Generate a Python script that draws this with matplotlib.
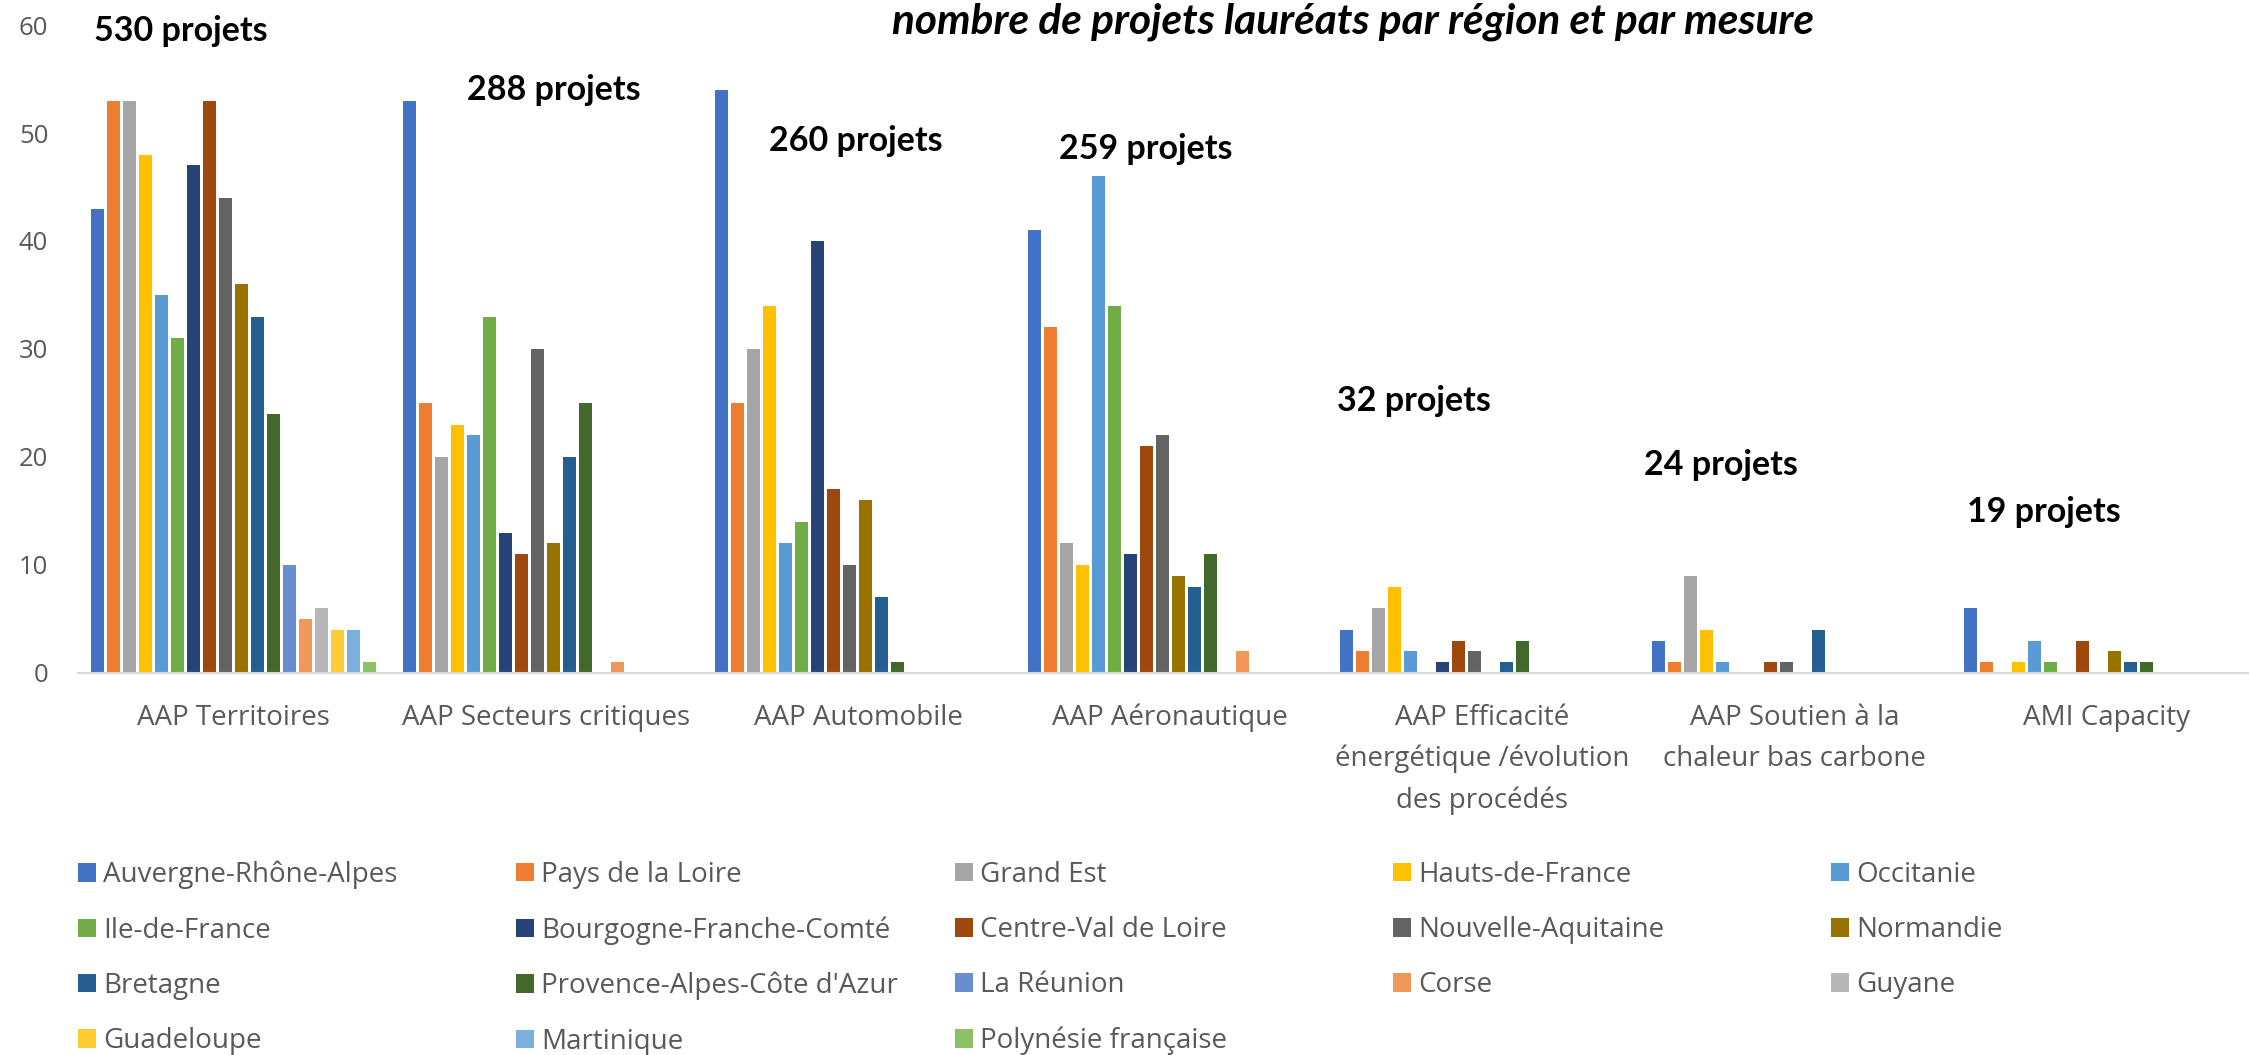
import numpy as np
import matplotlib
matplotlib.use("Agg")
import matplotlib.pyplot as plt

# mesures (categories)
mesures = [
    "AAP Territoires",
    "AAP Secteurs critiques",
    "AAP Automobile",
    "AAP Aéronautique",
    "AAP Efficacité\nénergétique /évolution\ndes procédés",
    "AAP Soutien à la\nchaleur bas carbone",
    "AMI Capacity",
]

regions = [
    "Auvergne-Rhône-Alpes", "Pays de la Loire", "Grand Est", "Hauts-de-France",
    "Occitanie", "Ile-de-France", "Bourgogne-Franche-Comté", "Centre-Val de Loire",
    "Nouvelle-Aquitaine", "Normandie", "Bretagne", "Provence-Alpes-Côte d'Azur",
    "La Réunion", "Corse", "Guyane", "Guadeloupe", "Martinique", "Polynésie française",
]

couleurs = [
    "#4472C4", "#ED7D31", "#A5A5A5", "#FFC000", "#5B9BD5", "#70AD47",
    "#264478", "#9E480E", "#636363", "#997300", "#255E91", "#43682B",
    "#698ED0", "#F1975A", "#B7B7B7", "#FFCD33", "#7CAFDD", "#8CC168",
]

# nombre de projets, une ligne par mesure, une colonne par region
territoires = [43, 53, 53, 48, 35, 31, 47, 53, 44, 36, 33, 24, 10, 5, 6, 4, 4, 1]
secteurs    = [53, 25, 20, 23, 22, 33, 13, 11, 30, 12, 20, 25, 0, 1, 0, 0, 0, 0]
automobile  = [54, 25, 30, 34, 12, 14, 40, 17, 10, 16, 7, 1, 0, 0, 0, 0, 0, 0]
aero        = [41, 32, 12, 10, 46, 34, 11, 21, 22, 9, 8, 11, 0, 2, 0, 0, 0, 0]
efficacite  = [4, 2, 6, 8, 2, 0, 1, 3, 2, 0, 1, 3, 0, 0, 0, 0, 0, 0]
chaleur     = [3, 1, 9, 4, 1, 0, 0, 1, 1, 0, 4, 0, 0, 0, 0, 0, 0, 0]
capacity    = [6, 1, 0, 1, 3, 1, 0, 3, 0, 2, 1, 1, 0, 0, 0, 0, 0, 0]

valeurs = np.array([territoires, secteurs, automobile, aero, efficacite, chaleur, capacity])

# placement des etiquettes "xxx projets" (decalage x, ligne de base y)
lab_dx = [-0.168, 0.026, -0.006, -0.078, -0.219, -0.236, -0.201]
lab_y = [58.5, 53.1, 48.3, 47.6, 24.3, 18.3, 14.0]

fig = plt.figure(figsize=(22.49, 10.55), dpi=100)
# la zone de trace depasse un peu a droite, comme dans l'original
ax = fig.add_axes([0.03446, 0.3621, 0.9717, 0.6142])

n = len(regions)
x = np.arange(len(mesures))
slot = 0.05125
w = 0.0416
for i in range(n):
    ax.bar(x - n * slot / 2 + slot * (i + 0.5), valeurs[:, i], width=w,
           color=couleurs[i], linewidth=0, label=regions[i])

ax.set_xlim(-0.5, len(mesures) - 0.5)
ax.set_ylim(0, 60)
ax.set_yticks(range(0, 61, 10))
ax.set_xticks(x)
ax.set_xticklabels(mesures, fontfamily="Open Sans", fontsize=20, color="#595959",
                   linespacing=1.62)
for t in ax.get_yticklabels():
    t.set_fontfamily("Open Sans")
    t.set_fontsize(18.5)
    t.set_color("#595959")
ax.tick_params(axis="y", length=0, pad=21)
ax.tick_params(axis="x", length=0, pad=22)
for s in ["top", "right", "left"]:
    ax.spines[s].set_visible(False)
ax.spines["bottom"].set_color("#D9D9D9")
ax.spines["bottom"].set_linewidth(1.5)

totaux = valeurs.sum(axis=1)
for k in range(len(mesures)):
    ax.text(x[k] + lab_dx[k], lab_y[k], f"{totaux[k]} projets", ha="center", va="baseline",
            fontfamily="Lato", fontweight="bold", fontsize=24.5, color="black")

fig.text(0.6017, 0.9687, "nombre de projets lauréats par région et par mesure",
         ha="center", va="baseline", fontfamily="Lato", fontweight="bold",
         fontstyle="italic", fontsize=30.5, color="black")

# legende : 5 colonnes de largeur egale, remplies ligne par ligne
handles, labels = ax.get_legend_handles_labels()
col_x = [0.0347, 0.2295, 0.4245, 0.6194, 0.8142]
for c in range(5):
    idx = list(range(c, n, 5))
    fig.legend([handles[i] for i in idx], [labels[i] for i in idx],
               loc="upper left", bbox_to_anchor=(col_x[c], 0.1840), frameon=False,
               prop={"family": "Open Sans", "size": 20}, labelcolor="#595959",
               handlelength=0.65, handleheight=0.65, handletextpad=0.25,
               labelspacing=0.98, borderpad=0, borderaxespad=0)

fig.savefig("out.png", dpi=100)
